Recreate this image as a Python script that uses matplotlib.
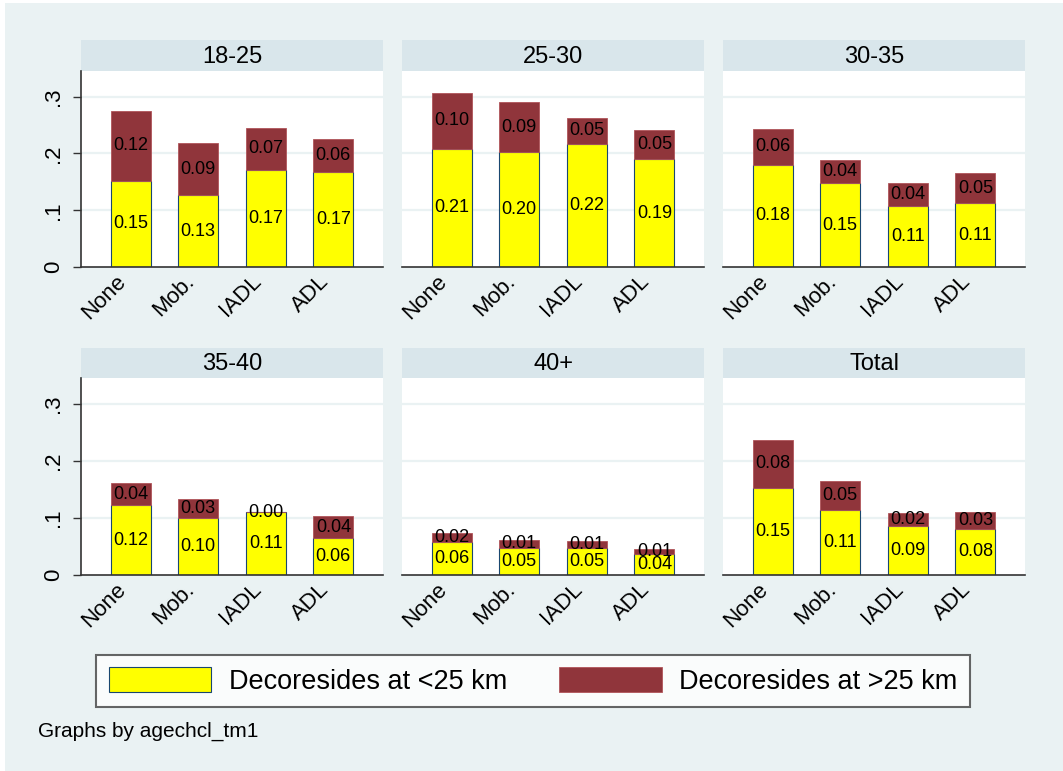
import numpy as np
import matplotlib
matplotlib.use("Agg")
import matplotlib.pyplot as plt
from matplotlib.patches import Rectangle, Patch

plt.rcParams['font.family'] = ['Liberation Sans', 'DejaVu Sans']

# data
categories = ['None', 'Mob.', 'IADL', 'ADL']
groups = ['18-25', '25-30', '30-35', '35-40', '40+', 'Total']
near = {
    '18-25': [0.152, 0.126, 0.171, 0.167],
    '25-30': [0.208, 0.202, 0.216, 0.190],
    '30-35': [0.180, 0.147, 0.107, 0.1125],
    '35-40': [0.122, 0.0996, 0.110, 0.0645],
    '40+':   [0.057, 0.048, 0.048, 0.036],
    'Total': [0.153, 0.114, 0.086, 0.081],
}
far = {
    '18-25': [0.122, 0.092, 0.074, 0.058],
    '25-30': [0.098, 0.088, 0.047, 0.052],
    '30-35': [0.063, 0.041, 0.041, 0.053],
    '35-40': [0.039, 0.034, 0.000, 0.039],
    '40+':   [0.016, 0.014, 0.011, 0.009],
    'Total': [0.084, 0.051, 0.023, 0.029],
}
yticks = [0, 0.1, 0.2, 0.3]
ytick_labels = ['0', '.1', '.2', '.3']
legend_labels = ['Decoresides at <25 km', 'Decoresides at >25 km']

W, H = 1063, 771
bg = '#EAF2F3'
strip_col = '#D9E6EB'
yellow = '#FFFF00'
maroon = '#90353B'

fig = plt.figure(figsize=(W / 100, H / 100), dpi=100, facecolor='white')
fig.patches.append(Rectangle((5 / W, 0), 1 - 5 / W, 1 - 3 / H, transform=fig.transFigure,
                             facecolor=bg, edgecolor='none', zorder=-10))


def px_axes(left, top, width, height):
    return fig.add_axes([left / W, 1 - (top + height) / H, width / W, height / H])


col_left = [81, 402, 723]
row_strip = [(40, 31), (348, 30)]
row_plot = [(71, 196), (378, 197)]
pw = 302
x = np.arange(len(categories))

for i, g in enumerate(groups):
    r, c = divmod(i, 3)
    # strip with the group name
    st = px_axes(col_left[c], row_strip[r][0], pw, row_strip[r][1])
    st.set_facecolor(strip_col)
    st.set_xticks([])
    st.set_yticks([])
    for s in st.spines.values():
        s.set_visible(False)
    st.text(0.5, 0.45, g, ha='center', va='center', fontsize=17, transform=st.transAxes)

    ax = px_axes(col_left[c], row_plot[r][0], pw, row_plot[r][1])
    ax.set_facecolor('white')
    lo = np.array(near[g])
    hi = np.array(far[g])
    ax.bar(x, lo, width=0.59, color=yellow, edgecolor='#1A476F', linewidth=0.8, zorder=3)
    ax.bar(x, hi, bottom=lo, width=0.59, color=maroon, edgecolor='#B0545A', linewidth=0.6, zorder=3)
    for xi, a, b in zip(x, lo, hi):
        ax.text(xi, a / 2, f'{a:.2f}', ha='center', va='center', fontsize=13, zorder=4)
        ax.text(xi, a + b / 2, f'{b:.2f}', ha='center', va='center', fontsize=13, zorder=4)

    ax.set_xlim(-0.735, 3.735)
    ax.set_ylim(0, 0.345)
    for yv in yticks[1:]:
        ax.axhline(yv, color=bg, linewidth=1.6, zorder=1)

    ax.spines['top'].set_visible(False)
    ax.spines['right'].set_visible(False)
    ax.spines['bottom'].set_color('#333333')
    ax.spines['bottom'].set_linewidth(1.2)
    ax.spines['bottom'].set_zorder(5)

    ax.set_xticks(x)
    ax.set_xticklabels(categories, rotation=45, ha='right', va='top', fontsize=16)
    ax.tick_params(axis='x', length=0, pad=3)

    if c == 0:
        ax.spines['left'].set_color('#333333')
        ax.spines['left'].set_linewidth(1.2)
        ax.set_yticks(yticks)
        ax.set_yticklabels(ytick_labels, rotation=90, va='center', fontsize=16)
        ax.tick_params(axis='y', length=6, width=1, color='#333333', pad=6)
    else:
        ax.spines['left'].set_visible(False)
        ax.set_yticks([])

handles = [Patch(facecolor=yellow, edgecolor='#1A476F', linewidth=0.8),
           Patch(facecolor=maroon, edgecolor='#B0545A', linewidth=0.6)]
leg = fig.legend(handles, legend_labels, loc='center', bbox_to_anchor=(533 / W, 1 - 681 / H),
                 ncol=2, fontsize=19.5, frameon=True, fancybox=False, handlelength=3.8,
                 handleheight=1.0, columnspacing=1.9, handletextpad=0.65, borderpad=0.45)
leg.get_frame().set_edgecolor('#404040')
leg.get_frame().set_linewidth(1.5)
leg.get_frame().set_facecolor('white')

fig.text(38 / W, 1 - 731 / H, 'Graphs by agechcl_tm1', ha='left', va='center', fontsize=15)

fig.savefig('out.png', dpi=100, facecolor=fig.get_facecolor())
